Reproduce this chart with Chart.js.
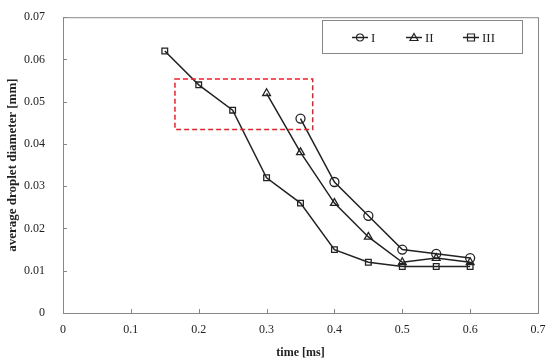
<!DOCTYPE html>
<html>
<head>
<meta charset="utf-8">
<script src="https://cdn.jsdelivr.net/npm/chart.js@4/dist/chart.umd.min.js"></script>
<style>
  html, body { margin: 0; padding: 0; background: #fff; }
  #wrap { width: 550px; height: 363px; }
</style>
</head>
<body>
<div id="wrap"><canvas id="c"></canvas></div>
<script>
// data
var timeI = [0.35, 0.4, 0.45, 0.5, 0.55, 0.6];
var diamI = [0.046, 0.031, 0.023, 0.015, 0.014, 0.013];
var timeII = [0.3, 0.35, 0.4, 0.45, 0.5, 0.55, 0.6];
var diamII = [0.052, 0.038, 0.026, 0.018, 0.012, 0.013, 0.012];
var timeIII = [0.15, 0.2, 0.25, 0.3, 0.35, 0.4, 0.45, 0.5, 0.55, 0.6];
var diamIII = [0.062, 0.054, 0.048, 0.032, 0.026, 0.015, 0.012, 0.011, 0.011, 0.011];
var seriesNames = ['I', 'II', 'III'];
var markers = ['circle', 'triangle', 'rect'];
// highlighted region (data units)
var boxX = [0.165, 0.368];
var boxY = [0.0434, 0.0554];

function toPoints(xs, ys) {
    var pts = [];
    for (var i = 0; i < xs.length; i++) pts.push({ x: xs[i], y: ys[i] });
    return pts;
}

var font = 'Liberation Serif';
var allData = [toPoints(timeI, diamI), toPoints(timeII, diamII), toPoints(timeIII, diamIII)];
var datasets = allData.map(function(d, i) {
    return {
        label: seriesNames[i],
        data: d,
        borderColor: '#222',
        borderWidth: 1.5,
        pointStyle: markers[i],
        pointRadius: i == 2 ? 4 : 4.5,
        pointBackgroundColor: 'rgba(255,255,255,0)',
        pointBorderColor: '#222',
        pointBorderWidth: 1.3,
        tension: 0
    };
});

// frame, inward ticks, dashed box and legend
var decor = {
    id: 'decor',
    afterDatasetsDraw: function(chart) {
        var ctx = chart.ctx, a = chart.chartArea;
        var xs = chart.scales.x, ys = chart.scales.y;
        ctx.save();
        ctx.strokeStyle = '#888';
        ctx.lineWidth = 1;
        ctx.strokeRect(a.left + 0.5, a.top + 0.5, a.right - a.left, a.bottom - a.top);
        ctx.beginPath();
        xs.ticks.forEach(function(t) {
            var px = Math.round(xs.getPixelForValue(t.value)) + 0.5;
            ctx.moveTo(px, a.bottom);
            ctx.lineTo(px, a.bottom - 4);
        });
        ys.ticks.forEach(function(t) {
            var py = Math.round(ys.getPixelForValue(t.value)) + 0.5;
            ctx.moveTo(a.left, py);
            ctx.lineTo(a.left + 4, py);
        });
        ctx.stroke();

        // red dashed rectangle
        var x0 = xs.getPixelForValue(boxX[0]), x1 = xs.getPixelForValue(boxX[1]);
        var y0 = ys.getPixelForValue(boxY[1]), y1 = ys.getPixelForValue(boxY[0]);
        ctx.strokeStyle = '#e8202a';
        ctx.lineWidth = 1.5;
        ctx.setLineDash([5, 3]);
        ctx.strokeRect(x0, y0, x1 - x0, y1 - y0);
        ctx.setLineDash([]);

        // legend box
        var lx = 322, ly = 20, lw = 200, lh = 33;
        ctx.fillStyle = '#fff';
        ctx.fillRect(lx, ly, lw, lh);
        ctx.strokeStyle = '#888';
        ctx.lineWidth = 1;
        ctx.strokeRect(lx + 0.5, ly + 0.5, lw, lh);
        var cy = ly + lh / 2 + 1;
        var starts = [352, 406, 463];
        ctx.font = '13px "' + font + '"';
        ctx.textBaseline = 'middle';
        for (var i = 0; i < 3; i++) {
            var sx = starts[i];
            ctx.strokeStyle = '#222';
            ctx.lineWidth = 1.5;
            ctx.beginPath();
            ctx.moveTo(sx, cy);
            ctx.lineTo(sx + 16, cy);
            ctx.stroke();
            ctx.lineWidth = 1.2;
            ctx.beginPath();
            if (markers[i] == 'circle') {
                ctx.arc(sx + 8, cy, 3.5, 0, Math.PI * 2);
            } else if (markers[i] == 'triangle') {
                ctx.moveTo(sx + 8, cy - 4);
                ctx.lineTo(sx + 12, cy + 3);
                ctx.lineTo(sx + 4, cy + 3);
                ctx.closePath();
            } else {
                ctx.rect(sx + 4.5, cy - 3.5, 7, 7);
            }
            ctx.stroke();
            ctx.fillStyle = '#222';
            ctx.fillText(seriesNames[i], sx + 19, cy + 1);
        }
        ctx.restore();
    }
};

var ctx = document.getElementById('c').getContext('2d');
var chart = new Chart(ctx, {
    type: 'line',
    data: { datasets: datasets },
    options: {
        responsive: true,
        maintainAspectRatio: false,
        animation: false,
        layout: { padding: { top: 10, right: 12, left: 0, bottom: 0 } },
        plugins: {
            legend: { display: false },
            tooltip: { enabled: false }
        },
        scales: {
            x: {
                type: 'linear',
                min: 0,
                max: 0.7,
                grid: { display: false },
                border: { display: false },
                ticks: {
                    stepSize: 0.1,
                    padding: 2,
                    color: '#222',
                    font: { family: font, size: 12 },
                    callback: function(v) { return +v.toFixed(1); }
                },
                title: {
                    display: true,
                    text: 'time [ms]',
                    color: '#222',
                    font: { family: font, size: 12, weight: 'bold' },
                    padding: { top: 4, bottom: 3 }
                },
                afterFit: function(s) { s.height = 50; }
            },
            y: {
                min: 0,
                max: 0.07,
                grid: { display: false },
                border: { display: false },
                ticks: {
                    stepSize: 0.01,
                    padding: 10,
                    color: '#222',
                    font: { family: font, size: 12 },
                    callback: function(v) { return +v.toFixed(2); }
                },
                title: {
                    display: true,
                    text: 'average droplet diameter [mm]',
                    color: '#222',
                    font: { family: font, size: 13, weight: 'bold' },
                    padding: { top: 5, bottom: 5 }
                },
                afterFit: function(s) { s.width = 63; }
            }
        }
    },
    plugins: [decor]
});
</script>
</body>
</html>
